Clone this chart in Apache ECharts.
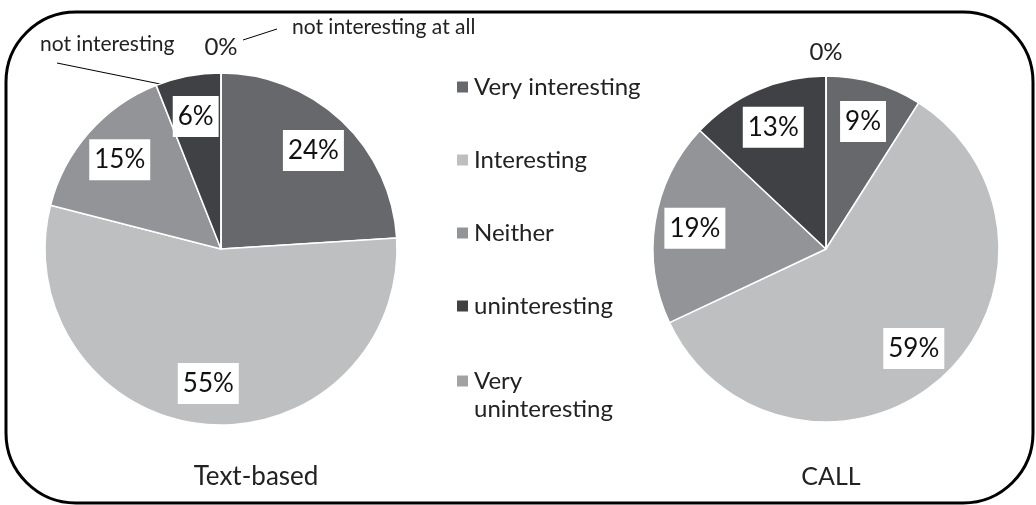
<!DOCTYPE html>
<html><head><meta charset="utf-8">
<script src="https://cdn.jsdelivr.net/npm/echarts@6/dist/echarts.min.js"></script>
<style>html,body{margin:0;padding:0;background:#fff}#c{width:1036px;height:505px}</style>
</head><body><div id="c"></div>
<script>
const categories = ['Very interesting', 'Interesting', 'Neither', 'uninteresting', 'Very uninteresting'];
const textBased = [24, 55, 15, 6, 0];
const call = [9, 59, 19, 13, 0];
const chartTitles = ['Text-based', 'CALL'];
const annotations = ['not interesting', 'not interesting at all'];
const colors = ['#67686b', '#bebfc1', '#939497', '#404144', '#a1a2a4'];

const FONT = 'Lato';
const chart = echarts.init(document.getElementById('c'));

function pieData(vals) { return categories.map((n, i) => ({ name: n, value: vals[i] })); }

function basePie(vals, center, r) {
  return {
    type: 'pie', center: center, radius: r, startAngle: 90, clockwise: true,
    data: pieData(vals), label: { show: false }, labelLine: { show: false },
    itemStyle: { borderColor: '#fff', borderWidth: 1.5 }, silent: true, animation: false
  };
}
function labelPie(vals, center, r, zeroDy) {
  return {
    type: 'pie', center: center, radius: [r * 0.5, r], startAngle: 90, clockwise: true,
    data: pieData(vals), itemStyle: { color: 'transparent' }, silent: true, animation: false,
    legendHoverLink: false,
    label: {
      show: true, position: 'inside', formatter: '{c}%', color: '#111',
      fontFamily: FONT, fontSize: 26, lineHeight: 30, backgroundColor: '#fff', padding: [6, 5, 5, 5]
    },
    labelLine: { show: false },
    labelLayout: function (p) {
      if (vals[p.dataIndex] === 0) return { dy: zeroDy };
      return {};
    }
  };
}
function fixZero(s, vals) {
  s.data = s.data.map((d, i) => vals[i] === 0 ? Object.assign({}, d, { label: { backgroundColor: 'transparent', color: '#222', fontSize: 24 } }) : d);
  return s;
}

const titleStyle = { fontFamily: FONT, fontSize: 26, fontWeight: 'normal', color: '#222' };
chart.setOption({
  color: colors,
  animation: false,
  title: [
    { text: chartTitles[0], left: 251, top: 459, textAlign: 'center', textStyle: titleStyle },
    { text: chartTitles[1], left: 826, top: 459, textAlign: 'center', textStyle: Object.assign({}, titleStyle, { fontSize: 25 }) }
  ],
  legend: [
    {
      orient: 'vertical', left: 455, top: 73, padding: 0, itemGap: 45, itemWidth: 13, itemHeight: 13,
      icon: 'rect', data: categories.slice(0, 4), selectedMode: false,
      textStyle: { fontFamily: FONT, fontSize: 24, lineHeight: 28, color: '#222' }
    },
    {
      orient: 'vertical', left: 455, top: 339, padding: 0, itemWidth: 13, itemHeight: 13,
      icon: 'rect', data: categories.slice(4), selectedMode: false,
      formatter: n => '\u200b\n' + n.replace(' ', '\n'),
      textStyle: { fontFamily: FONT, fontSize: 24, lineHeight: 28, color: '#222' }
    }
  ],
  graphic: [
    { type: 'rect', shape: { x: 6, y: 12, width: 1027, height: 491, r: 70 }, style: { fill: 'none', stroke: '#000', lineWidth: 3 }, silent: true },
    { type: 'text', left: 40, top: 34, style: { text: annotations[0], font: '21px ' + FONT, fill: '#222' } },
    { type: 'text', left: 292, top: 17, style: { text: annotations[1], font: '21px ' + FONT, fill: '#222' } },
    { type: 'line', shape: { x1: 57, y1: 63, x2: 170, y2: 86 }, style: { stroke: '#000', lineWidth: 1 } },
    { type: 'line', shape: { x1: 243, y1: 40, x2: 277, y2: 29 }, style: { stroke: '#000', lineWidth: 1 } }
  ],
  series: [
    basePie(textBased, [221, 249], 176),
    basePie(call, [826, 249], 173),
    fixZero(labelPie(textBased, [221, 249], 176, -67), textBased),
    fixZero(labelPie(call, [826, 249], 173, -64), call)
  ]
});
</script></body></html>
